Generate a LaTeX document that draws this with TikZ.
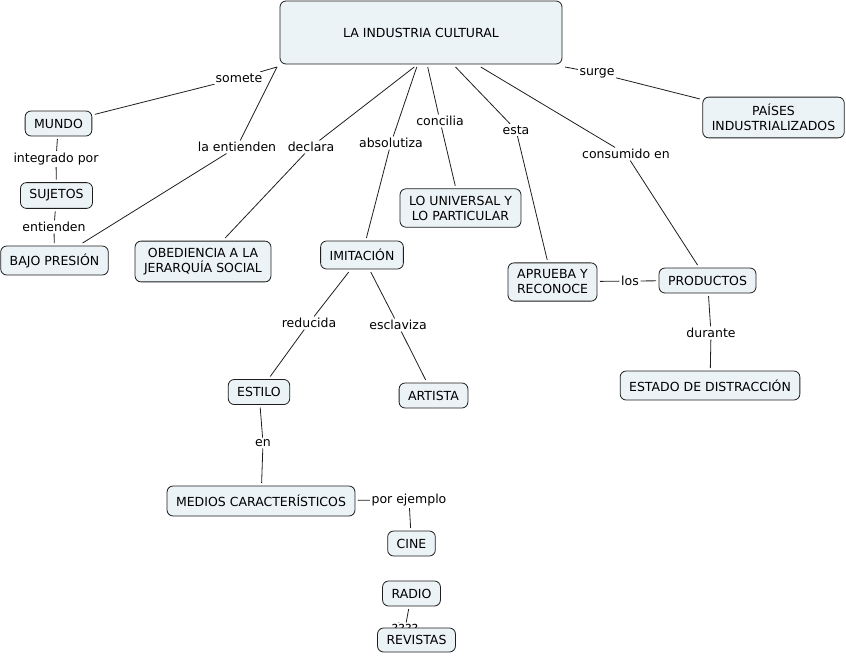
\documentclass[tikz,border=0pt]{standalone}
\usepackage{fontspec}
\setmainfont{DejaVu Sans}
\usetikzlibrary{backgrounds}
\definecolor{conceptfill}{RGB}{236,243,246}
\definecolor{linkline}{RGB}{30,30,30}
\begin{document}
\begin{tikzpicture}[x = 1pt, y = -1pt,
  concept/.style = {draw = linkline, line width = 0.8pt, fill = conceptfill,
    rounded corners = 6pt, inner xsep = 9pt, inner ysep = 7pt,
    minimum height = 25pt, align = center, outer sep = 3pt,
    font = \fontsize{12.5}{15}\selectfont},
  link/.style = {fill = white, inner sep = 1.5pt, font = \fontsize{12.5}{15}\selectfont}]
  \useasboundingbox (0, 0) rectangle (846, 656);
  % draw concepts
  \node[concept, minimum width = 282pt, minimum height = 63pt] (main) at (421, 32.5)
  {LA INDUSTRIA CULTURAL};
  \node[concept] (paises) at (773.5, 117.5) {PAÍSES\\INDUSTRIALIZADOS};
  \node[concept] (mundo) at (58.5, 123.5) {MUNDO};
  \node[concept] (sujetos) at (56.5, 195.5) {SUJETOS};
  \node[concept, minimum height = 29pt] (bajo) at (54.5, 260.5) {BAJO PRESIÓN};
  \node[concept] (obediencia) at (203, 261.5) {OBEDIENCIA A LA\\JERARQUÍA SOCIAL};
  \node[concept] (universal) at (460.5, 208) {LO UNIVERSAL Y\\LO PARTICULAR};
  \node[concept, minimum height = 28pt] (imitacion) at (362, 255) {IMITACIÓN};
  \node[concept] (aprueba) at (552.5, 282) {APRUEBA Y\\RECONOCE};
  \node[concept] (productos) at (707.5, 280.5) {PRODUCTOS};
  \node[concept, minimum height = 29pt] (estado) at (710, 385.5) {ESTADO DE DISTRACCIÓN};
  \node[concept] (estilo) at (259, 392) {ESTILO};
  \node[concept] (artista) at (433.5, 395.5) {ARTISTA};
  \node[concept, minimum height = 30pt] (medios) at (261, 501) {MEDIOS CARACTERÍSTICOS};
  \node[concept] (cine) at (411.5, 543.5) {CINE};
  \node[concept] (radio) at (411.5, 593.5) {RADIO};
  % draw linking phrases
  \node[link] (somete) at (239, 78) {somete};
  \node[link] (surge) at (597, 73) {surge};
  \node[link] (integrado) at (56, 159) {integrado por};
  \node[link] (entienden) at (54, 227) {entienden};
  \node[link] (laentienden) at (237, 147) {la entienden};
  \node[link] (declara) at (311, 147) {declara};
  \node[link] (absolutiza) at (391, 143) {absolutiza};
  \node[link] (concilia) at (440, 121) {concilia};
  \node[link] (esta) at (516, 130) {esta};
  \node[link] (consumido) at (626, 154) {consumido en};
  \node[link] (los) at (630, 281) {los};
  \node[link] (durante) at (711, 333) {durante};
  \node[link] (reducida) at (309, 323) {reducida};
  \node[link] (esclaviza) at (398, 325) {esclaviza};
  \node[link] (en) at (263, 443) {en};
  \node[link] (ejemplo) at (409, 500) {por ejemplo};
  \node[link] (qmarks) at (405, 629) {????};
  % last concept covers the phrase above it
  \node[concept, minimum height = 24pt, inner ysep = 5pt] (revistas) at (416.5, 640) {REVISTAS};
  % draw connectors
  \begin{scope}[on background layer]
    \foreach \a/\b in {main.south west/somete, somete/mundo,
      main.south west/laentienden, laentienden/bajo, main.-101/declara,
      declara/obediencia, main.-97/absolutiza, absolutiza/imitacion,
      main.-79/concilia, concilia/universal, main.-45/esta, esta/aprueba,
      main.-30/consumido, consumido/productos, main.south east/surge,
      surge/paises, mundo/integrado, integrado/sujetos, sujetos/entienden,
      entienden/bajo, aprueba/los, los/productos, productos/durante,
      durante/estado, imitacion/reducida, reducida/estilo,
      imitacion/esclaviza, esclaviza/artista, estilo/en, en/medios,
      medios/ejemplo, ejemplo/cine, radio/qmarks, qmarks/revistas}{
      \draw[linkline, line width = 0.8pt] (\a) -- (\b);
    }
  \end{scope}
\end{tikzpicture}
\end{document}
